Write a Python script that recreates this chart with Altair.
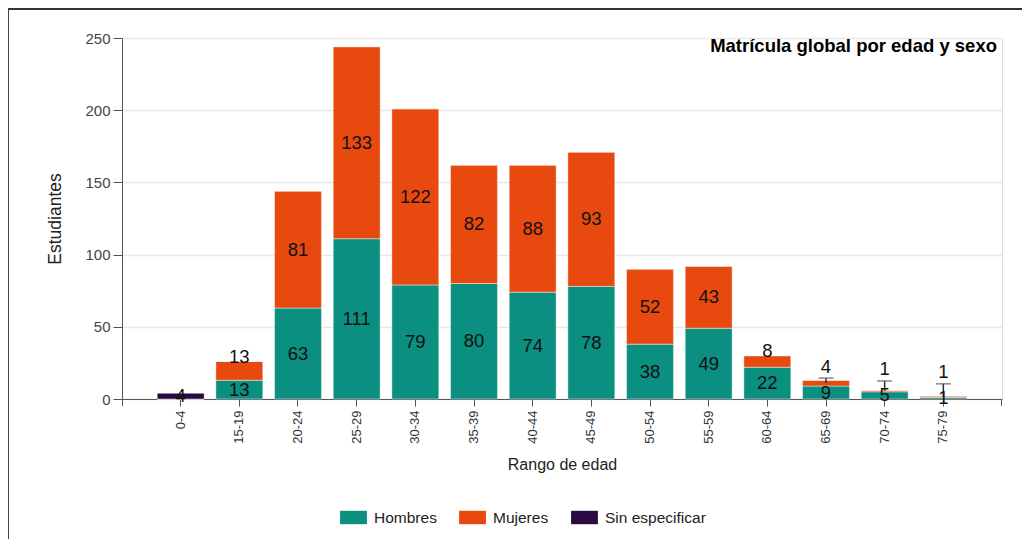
import altair as alt
import pandas as pd

categorias = ["0-4", "15-19", "20-24", "25-29", "30-34", "35-39", "40-44",
              "45-49", "50-54", "55-59", "60-64", "65-69", "70-74", "75-79"]
hombres = [0, 13, 63, 111, 79, 80, 74, 78, 38, 49, 22, 9, 5, 1]
mujeres = [0, 13, 81, 133, 122, 82, 88, 93, 52, 43, 8, 4, 1, 1]
sin_especificar = [4, 0, 0, 0, 0, 0, 0, 0, 0, 0, 0, 0, 0, 0]

series = ["Hombres", "Mujeres", "Sin especificar"]
colores = ["#0A8F80", "#E8490F", "#2B0A42"]

rows = []
for i, c in enumerate(categorias):
    for k, (s, vals) in enumerate(zip(series, [hombres, mujeres, sin_especificar])):
        rows.append({"cat": c, "sexo": s, "orden": k, "value": vals[i]})
df = pd.DataFrame(rows)

W, H = 880, 361
FONT = "Liberation Sans"

x_enc = alt.X("cat:N", sort=categorias,
              scale=alt.Scale(paddingInner=0.2, paddingOuter=0.6),
              axis=alt.Axis(title="Rango de edad", labelAngle=-90, labelFontSize=13,
                            labelColor="#333", labelFont=FONT, labelPadding=4,
                            tickSize=7, tickColor="#555", domainColor="#555",
                            titleFontSize=16, titleFont=FONT, titleFontWeight="normal",
                            titleColor="#222", titlePadding=13, grid=False,
                            labelBaseline="middle", labelAlign="right"))

base = alt.Chart(df).transform_stack(
    stack="value", groupby=["cat"], as_=["y0", "y1"],
    sort=[alt.SortField("orden", order="ascending")]
)

bars = base.mark_bar(stroke="white", strokeWidth=1, strokeOpacity=0.45).encode(
    x=x_enc,
    y=alt.Y("y1:Q", scale=alt.Scale(domain=[0, 250], nice=False),
            axis=alt.Axis(title="Estudiantes", values=[0, 50, 100, 150, 200, 250],
                          labelFontSize=15, labelColor="#444", labelFont=FONT,
                          tickSize=9, tickColor="#555", domainColor="#555",
                          gridColor="#e8e8e8", gridWidth=1.5, labelPadding=3,
                          titleFontSize=17.5, titleFont=FONT, titleFontWeight="normal",
                          titleColor="#222", titlePadding=20)),
    y2="y0:Q",
    color=alt.Color("sexo:N", scale=alt.Scale(domain=series, range=colores),
                    legend=alt.Legend(title=None, orient="none", direction="horizontal",
                                      legendX=218, legendY=466,
                                      symbolType="M-1,-0.5L1,-0.5L1,0.5L-1,0.5Z",
                                      symbolSize=720, symbolStrokeWidth=0,
                                      symbolOpacity=1, labelFontSize=15.5, labelFont=FONT,
                                      labelColor="#222", columnPadding=22,
                                      labelOffset=7, symbolOffset=0)),
)

lab = base.transform_filter("datum.value > 0").transform_calculate(
    mid="(datum.y0 + datum.y1) / 2",
).transform_calculate(
    lbl="datum.sexo == 'Mujeres' && datum.value < 14 ? max(datum.y0 / 2 + 18, datum.y1 + 3) : datum.mid"
)

labels = lab.mark_text(fontSize=18.5, font=FONT, color="#111", baseline="middle").encode(
    x=alt.X("cat:N", sort=categorias), y="lbl:Q", text="value:Q"
)

lead = lab.transform_filter("datum.lbl - datum.mid > 10.5").transform_calculate(
    cap="datum.lbl - 8"
)
leader_rules = lead.mark_rule(color="#333", strokeWidth=1.5).encode(
    x=alt.X("cat:N", sort=categorias), y="cap:Q", y2="mid:Q"
)
leader_caps = lead.mark_tick(color="#555", thickness=1.5, size=15, orient="horizontal").encode(
    x=alt.X("cat:N", sort=categorias), y="cap:Q"
)

titulo = alt.Chart(pd.DataFrame({"t": ["Matrícula global por edad y sexo"]})).mark_text(
    align="right", baseline="middle", fontSize=18.5, fontWeight="bold", font=FONT, color="#000"
).encode(x=alt.value(W - 5), y=alt.value(8), text="t:N")

deco = pd.DataFrame({"d": [0]})
end_ticks = alt.Chart(deco).mark_rule(color="#555", strokeWidth=1).encode(
    x=alt.value(0.5), y=alt.value(H), y2=alt.value(H + 7))
end_ticks2 = alt.Chart(deco).mark_rule(color="#555", strokeWidth=1).encode(
    x=alt.value(W - 0.5), y=alt.value(H), y2=alt.value(H + 7))
border_top = alt.Chart(deco).mark_rule(color="#333", strokeWidth=2).encode(
    x=alt.value(-114), x2=alt.value(W + 20), y=alt.value(-29))
border_left = alt.Chart(deco).mark_rule(color="#444", strokeWidth=1).encode(
    x=alt.value(-113.5), y=alt.value(-30), y2=alt.value(H + 140))

chart = alt.layer(
    bars, leader_rules, leader_caps, labels, titulo, end_ticks, end_ticks2,
    border_top, border_left
).properties(
    width=W, height=H,
    autosize=alt.AutoSizeParams(type="none"),
    padding={"left": 114, "top": 30, "right": 20, "bottom": 140},
).configure_view(stroke=None).configure(background="white")

chart.save("out.html", embed_options={"renderer": "svg", "actions": False})
